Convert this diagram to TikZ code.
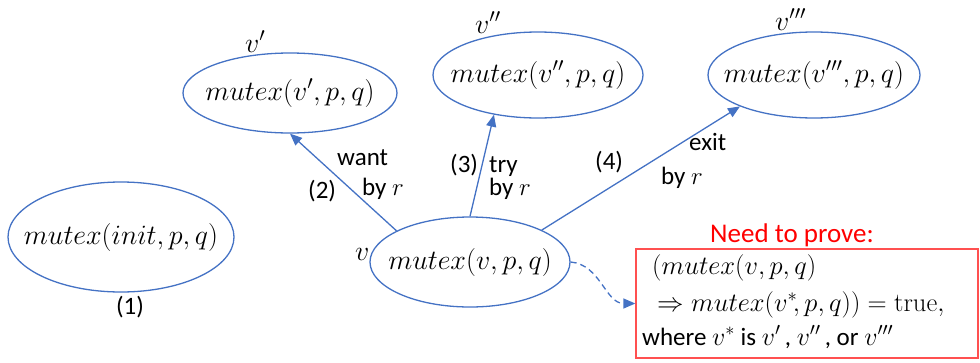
\documentclass[tikz,border=0pt]{standalone}
\usepackage{fix-cm}
\usepackage{fontspec}
\newfontfamily\sans{Carlito}
\usetikzlibrary{shapes.geometric,arrows.meta}
\definecolor{ob}{RGB}{68,114,196}
\definecolor{rb}{RGB}{255,80,80}
\newcommand{\zw}[1]{\makebox[0pt]{#1}}
\newcommand{\bm}[1]{{\fontsize{26}{30}\selectfont$#1$}}
\begin{document}
\begin{tikzpicture}[x=1pt,y=-1pt,
  st/.style={draw=ob,line width=1.3pt,ellipse,inner sep=0pt,font=\fontsize{28}{32}\selectfont},
  lab/.style={font=\fontsize{28}{32}\selectfont,inner sep=0pt,anchor=base west},
  tx/.style={font=\sans\fontsize{25}{29}\selectfont,inner sep=0pt,anchor=base west},
  mt/.style={font=\fontsize{26.5}{30}\selectfont,inner sep=0pt,anchor=base west},
  arr/.style={draw=ob,line width=1.3pt,-{Triangle[length=12pt,width=10pt]}}
]
\useasboundingbox (0,0) rectangle (980,362);
\node[st,minimum width=226pt,minimum height=110pt] (init) at (121,237) {\zw{$mutex(init,p,q)$}};
\node[st,minimum width=214pt,minimum height=80pt] (v1) at (290,93) {\zw{$mutex(v',p,q)$}};
\node[st,minimum width=210pt,minimum height=86pt] (v2) at (538,75) {\zw{$mutex(v'',p,q)$}};
\node[st,minimum width=212pt,minimum height=86pt] (v3) at (814,75) {\zw{$mutex(v''',p,q)$}};
\node[st,minimum width=200pt,minimum height=90pt] (v0) at (470,262) {\zw{$mutex(v,p,q)$}};
\node[lab] (l1) at (245,52) {$v'$};
\node[lab] (l2) at (475,33) {$v''$};
\node[lab] (l3) at (775,30) {$v'''$};
\node[lab] (l0) at (355,260) {$v$};
\node[tx,anchor=base] (n1) at (130,314) {(1)};
\draw[arr] (v0.157) -- (v1.south);
\draw[arr] (v0.north) -- (v2.222);
\draw[arr] (v0.24) -- (v3.203);
\node[tx] (want) at (337,165) {want};
\node[tx] (by2) at (362,195) {by $r$};
\node[tx] (n2) at (308,198) {(2)};
\node[tx] (n3) at (450,172) {(3)};
\node[tx] (try) at (489,172) {try};
\node[tx] (by3) at (489,195) {by $r$};
\node[tx] (n4) at (595,169) {(4)};
\node[tx] (exit) at (689,150) {exit};
\node[tx] (by4) at (661,184) {by $r$};
\node[draw=rb,line width=1.3pt,minimum width=342pt,minimum height=109pt,inner sep=0pt] (box) at (807,303.5) {};
\node[font=\sans\fontsize{27}{31}\selectfont,text=red,inner sep=0pt,anchor=base] (need) at (792,242) {Need to prove:};
\node[mt] (b1) at (652,274) {$(mutex(v,p,q)$};
\node[mt] (b2) at (657,311) {$\Rightarrow mutex(v^*\!,p,q))=\mathrm{true},$};
\node[tx] (b3) at (642,345) {where \bm{v^*} is \bm{v'\,}, \bm{v''\,}, or \bm{v'''}};
\draw[ob,line width=1.3pt,dash pattern=on 6pt off 4pt,-{Triangle[length=12pt,width=10pt]}] (v0.east) to[out=-5,in=180] (box.west);
\end{tikzpicture}
\end{document}
